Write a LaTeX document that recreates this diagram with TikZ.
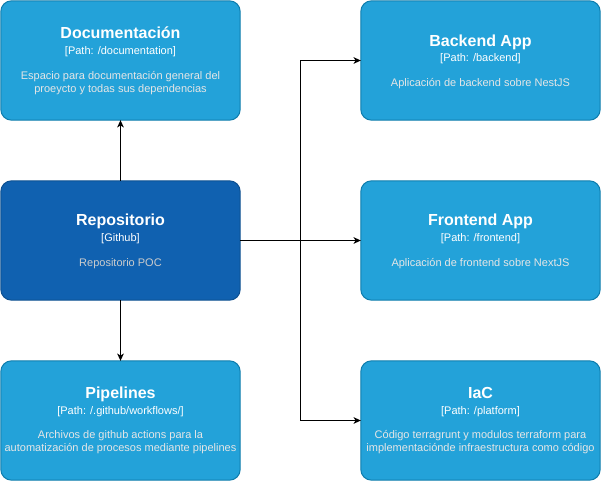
\documentclass[tikz,border=0pt]{standalone}
\usepackage{fontspec}
\setmainfont{Liberation Sans}
\usetikzlibrary{arrows.meta}
\definecolor{cfill}{HTML}{23A2D9}
\definecolor{cstroke}{HTML}{0E7DAD}
\definecolor{sfill}{HTML}{1061B0}
\definecolor{sstroke}{HTML}{0D5091}
\definecolor{cdesc}{HTML}{E6E6E6}
\definecolor{sdesc}{HTML}{CCCCCC}
\begin{document}
\begin{tikzpicture}[x=0.75pt,y=-0.75pt,
  box/.style={draw=cstroke,fill=cfill,line width=0.75pt,rounded corners=8pt,minimum width=179.5pt,minimum height=89.5pt,inner sep=0pt,outer sep=0pt},
  sysbox/.style={box,draw=sstroke,fill=sfill},
  ttl/.style={text=white,font=\fontsize{12}{14.4}\selectfont\bfseries,inner sep=0pt,anchor=base},
  pth/.style={text=white,font=\fontsize{8.25}{9.75}\selectfont,inner sep=0pt,anchor=base},
  dsc/.style={text=cdesc,font=\fontsize{8.25}{9.75}\selectfont,inner sep=0pt,align=center},
  conn/.style={draw=black,line width=0.75pt,-{Stealth[length=5.5pt,width=5pt,inset=1.6pt]}}
]
\useasboundingbox (0,0) rectangle (601,481);
% boxes
\node[box] (doc) at (120.5,60.5) {};
\node[sysbox] (repo) at (120.5,240.5) {};
\node[box] (pipe) at (120.5,420.5) {};
\node[box] (back) at (480.5,60.5) {};
\node[box] (front) at (480.5,240.5) {};
\node[box] (iac) at (480.5,420.5) {};
% texts
\node[ttl] (doct) at (120.5,39) {Documentación};
\node[pth] (docp) at (120.5,55) {[Path: /documentation]};
\node[dsc] (docd) at (120.5,83.5) {Espacio para documentación general del\\proeycto y todas sus dependencias};

\node[ttl] (repot) at (120.5,226) {Repositorio};
\node[pth] (repop) at (120.5,242) {[Github]};
\node[dsc,text=sdesc,anchor=base] (repod) at (120.5,267) {Repositorio POC};

\node[ttl] (pipet) at (120.5,399) {Pipelines};
\node[pth] (pipep) at (120.5,415) {[Path: /.github/workflows/]};
\node[dsc] (piped) at (120.5,442.5) {Archivos de github actions para la\\automatización de procesos mediante pipelines};

\node[ttl] (backt) at (480.5,47) {Backend App};
\node[pth] (backp) at (480.5,62) {[Path: /backend]};
\node[dsc,anchor=base] (backd) at (480.5,87) {Aplicación de backend sobre NestJS};

\node[ttl] (frontt) at (480.5,226) {Frontend App};
\node[pth] (frontp) at (480.5,242) {[Path: /frontend]};
\node[dsc,anchor=base] (frontd) at (480.5,267) {Aplicación de frontend sobre NextJS};

\node[ttl] (iact) at (480.5,399) {IaC};
\node[pth] (iacp) at (480.5,415) {[Path: /platform]};
\node[dsc] (iacd) at (480.5,442.5) {Código terragrunt y modulos terraform para\\implementaciónde infraestructura como código};
% connectors
\coordinate (j) at (300.5,240.5);
\draw[conn] (repo.north) -- (doc.south);
\draw[conn] (repo.south) -- (pipe.north);
\draw[conn] (repo.east) -- (front.west);
\draw[conn] (j) |- (back.west);
\draw[conn] (j) |- (iac.west);
\end{tikzpicture}
\end{document}
